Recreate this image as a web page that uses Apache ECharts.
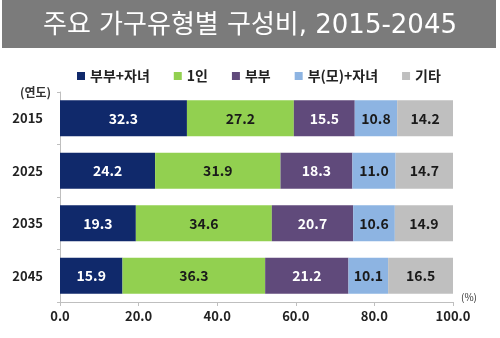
<!DOCTYPE html>
<html><head><meta charset="utf-8">
<script src="https://cdn.jsdelivr.net/npm/echarts@6/dist/echarts.min.js"></script>
<style>html,body{margin:0;padding:0;background:#fff}#c{width:500px;height:338px}</style>
</head><body><div id="c"></div>
<script>
const titleText = '주요 가구유형별 구성비, 2015-2045';
const years = ['2015', '2025', '2035', '2045'];
const seriesNames = ['부부+자녀', '1인', '부부', '부(모)+자녀', '기타'];
const coupleWithChildren = [32.3, 24.2, 19.3, 15.9];
const onePerson = [27.2, 31.9, 34.6, 36.3];
const couple = [15.5, 18.3, 20.7, 21.2];
const singleParent = [10.8, 11.0, 10.6, 10.1];
const others = [14.2, 14.7, 14.9, 16.5];
const xTicks = [0, 20, 40, 60, 80, 100];

const colors = ['#10296b', '#92d050', '#604a7b', '#8db4e2', '#bfbfbf'];
const labelColors = ['#ffffff', '#1a1a1a', '#ffffff', '#1a1a1a', '#1a1a1a'];
const allData = [coupleWithChildren, onePerson, couple, singleParent, others];
const font = '"Noto Sans CJK KR", "Noto Sans", sans-serif';

const chart = echarts.init(document.getElementById('c'));
chart.setOption({
  animation: false,
  color: colors,
  graphic: [
    { type: 'rect', left: 2, top: 0, shape: { width: 494, height: 48 }, style: { fill: '#7b7b7b' }, z: 0 },
    { type: 'text', left: 20, top: 86, style: { text: '(연도)', font: 'bold 12px ' + font, fill: '#333' } },
    { type: 'text', left: 461, top: 292, style: { text: '(%)', font: '10px ' + font, fill: '#333' } }
  ],
  title: {
    text: titleText, left: 'center', top: 8,
    textStyle: { color: '#ffffff', fontSize: 26, fontWeight: 'normal', fontFamily: '"DejaVu Sans", "Noto Sans CJK KR", sans-serif' }
  },
  legend: {
    top: 64, left: 72, itemWidth: 8, itemHeight: 8, itemGap: 24,
    icon: 'rect',
    textStyle: { fontSize: 14, fontWeight: 'bold', color: '#222', fontFamily: font },
    data: seriesNames
  },
  grid: { left: 60, right: 47, top: 92, bottom: 36 },
  xAxis: {
    type: 'value', min: 0, max: 100, interval: 20,
    axisLine: { show: true, lineStyle: { color: '#bfbfbf' } },
    axisTick: { show: true, length: 4, lineStyle: { color: '#bfbfbf' } },
    splitLine: { show: false },
    axisLabel: { formatter: v => xTicks.includes(v) ? v.toFixed(1) : '', fontSize: 13, fontWeight: 'bold', color: '#222', fontFamily: font, margin: 8 }
  },
  yAxis: {
    type: 'category', data: years, inverse: true,
    axisLine: { show: true, lineStyle: { color: '#bfbfbf' } },
    axisTick: { show: true, length: 3, lineStyle: { color: '#bfbfbf' } },
    axisLabel: { fontSize: 13, fontWeight: 'bold', color: '#222', fontFamily: font, margin: 17 }
  },
  series: seriesNames.map((n, i) => ({
    name: n, type: 'bar', stack: 'total', data: allData[i],
    barCategoryGap: '31%',
    label: { show: true, position: 'inside', formatter: p => p.value.toFixed(1), color: labelColors[i], fontSize: 14, fontWeight: 'bold', fontFamily: font }
  }))
});
</script></body></html>
